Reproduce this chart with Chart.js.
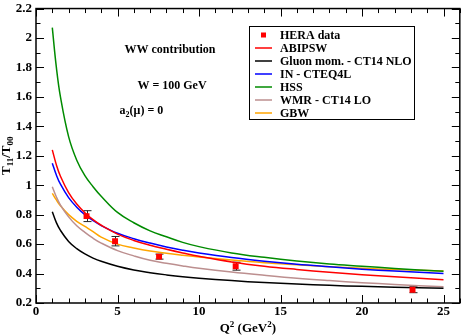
<!DOCTYPE html>
<html>
<head>
<meta charset="utf-8">
<script src="https://cdn.jsdelivr.net/npm/chart.js@4/dist/chart.umd.min.js"></script>
<style>
  html, body { margin: 0; padding: 0; background: #fff; }
  canvas { display: block; }
</style>
</head>
<body>
<canvas id="c" width="464" height="336"></canvas>
<script>
const FONT = "'Liberation Serif', 'Times New Roman', serif";

// Q^2 grid of the model curves (GeV^2)
const q2 = [1, 1.25, 1.5, 2, 2.5, 3, 3.5, 4, 5, 6, 7, 8, 9, 10, 12, 14, 16, 18, 20, 22, 25];
const abipsw = [1.24, 1.138, 1.061, 0.95, 0.872, 0.813, 0.766, 0.728, 0.668, 0.625, 0.592, 0.565, 0.54, 0.517, 0.479, 0.45, 0.428, 0.409, 0.392, 0.378, 0.358];
const gluonCT14 = [0.82, 0.746, 0.693, 0.618, 0.569, 0.533, 0.505, 0.483, 0.449, 0.424, 0.406, 0.391, 0.378, 0.368, 0.352, 0.339, 0.329, 0.32, 0.313, 0.307, 0.3];
const inCteq = [1.15, 1.069, 1.007, 0.916, 0.851, 0.8, 0.76, 0.726, 0.674, 0.637, 0.607, 0.581, 0.559, 0.54, 0.509, 0.484, 0.463, 0.446, 0.43, 0.417, 0.4];
const hss = [2.07, 1.8, 1.6, 1.33, 1.17, 1.065, 0.99, 0.925, 0.815, 0.745, 0.69, 0.65, 0.612, 0.583, 0.54, 0.51, 0.485, 0.465, 0.45, 0.435, 0.415];
const wmrCT14 = [0.99, 0.92, 0.865, 0.785, 0.725, 0.68, 0.64, 0.607, 0.556, 0.52, 0.49, 0.47, 0.452, 0.436, 0.41, 0.388, 0.368, 0.352, 0.338, 0.326, 0.31];
const gbw = [0.945, 0.9, 0.86, 0.8, 0.755, 0.72, 0.685, 0.648, 0.6, 0.574, 0.553, 0.538, 0.525, 0.513, 0.492, 0.474, 0.46, 0.447, 0.436, 0.427, 0.417];

// HERA measurements
const heraQ2 = [3.1, 4.85, 7.55, 12.25, 23.1];
const heraRatio = [0.79, 0.62, 0.515, 0.45, 0.29];
const heraErr = [0.037, 0.032, 0.017, 0.027, 0.02];

const xTicks = [0, 5, 10, 15, 20, 25];
const yTicks = [0.2, 0.4, 0.6, 0.8, 1, 1.2, 1.4, 1.6, 1.8, 2, 2.2];

const pts = (xs, ys) => xs.map((x, i) => ({ x, y: ys[i] }));
const curve = (label, ys, color) => ({
  label, data: pts(q2, ys), borderColor: color, backgroundColor: color,
  showLine: true, borderWidth: 1.5, pointRadius: 0, tension: 0.4,
});

// rich text helper: parts = [[text, 'n'|'sub'|'sup'], ...]
function richWidth(ctx, parts, size) {
  let w = 0;
  for (const [t, k] of parts) {
    ctx.font = `bold ${k === 'n' ? size : Math.round(size * 0.7)}px ${FONT}`;
    w += ctx.measureText(t).width;
  }
  return w;
}
function richText(ctx, parts, x, y, size) {
  ctx.textBaseline = 'alphabetic'; ctx.textAlign = 'left';
  for (const [t, k] of parts) {
    const s = k === 'n' ? size : Math.round(size * 0.7);
    ctx.font = `bold ${s}px ${FONT}`;
    const dy = k === 'sub' ? size * 0.25 : k === 'sup' ? -size * 0.4 : 0;
    ctx.fillText(t, x, y + dy);
    x += ctx.measureText(t).width;
  }
}

const decor = {
  id: 'decor',
  beforeDatasetsDraw(chart) {
    const { ctx, scales: { x, y } } = chart;
    ctx.save();
    ctx.strokeStyle = '#222'; ctx.lineWidth = 1;
    heraQ2.forEach((q, i) => {
      const px = Math.round(x.getPixelForValue(q)) + 0.5;
      const y0 = y.getPixelForValue(heraRatio[i] - heraErr[i]);
      const y1 = y.getPixelForValue(heraRatio[i] + heraErr[i]);
      ctx.beginPath();
      ctx.moveTo(px, y0); ctx.lineTo(px, y1);
      ctx.moveTo(px - 4, y0); ctx.lineTo(px + 4, y0);
      ctx.moveTo(px - 4, y1); ctx.lineTo(px + 4, y1);
      ctx.stroke();
    });
    ctx.restore();
  },
  afterDraw(chart) {
    const { ctx, chartArea: a, scales: { x, y } } = chart;
    ctx.save();
    // frame
    ctx.strokeStyle = '#000'; ctx.lineWidth = 1.5;
    ctx.strokeRect(a.left, a.top, a.right - a.left, a.bottom - a.top);
    // inward ticks on all four sides
    ctx.lineWidth = 1;
    ctx.beginPath();
    for (let v = 0; v <= 26; v++) {
      const px = Math.round(x.getPixelForValue(v)) + 0.5;
      const len = v % 5 === 0 ? 8 : 4.5;
      ctx.moveTo(px, a.bottom); ctx.lineTo(px, a.bottom - len);
      ctx.moveTo(px, a.top); ctx.lineTo(px, a.top + len);
    }
    for (let k = 2; k <= 22; k++) {
      const py = Math.round(y.getPixelForValue(k / 10)) + 0.5;
      const len = k % 2 === 0 ? 8 : 4.5;
      ctx.moveTo(a.left, py); ctx.lineTo(a.left + len, py);
      ctx.moveTo(a.right, py); ctx.lineTo(a.right - len, py);
    }
    ctx.stroke();

    // annotations
    ctx.fillStyle = '#000';
    richText(ctx, [['WW contribution', 'n']], x.getPixelForValue(5.43), y.getPixelForValue(1.925) + 4, 12);
    richText(ctx, [['W = 100 GeV', 'n']], x.getPixelForValue(6.22), y.getPixelForValue(1.683) + 4, 12);
    richText(ctx, [['a', 'n'], ['2', 'sub'], ['(\u03bc) = 0', 'n']], x.getPixelForValue(5.13), y.getPixelForValue(1.509) + 4, 12);

    // legend
    const lx = 249.5, ly = 26.5, lw = 165, lh = 93;
    ctx.fillStyle = '#fff';
    ctx.fillRect(lx, ly, lw, lh);
    ctx.strokeStyle = '#000'; ctx.lineWidth = 1;
    ctx.strokeRect(lx, ly, lw, lh);
    chart.data.datasets.forEach((ds, i) => {
      const ry = 35 + i * 13;
      if (ds.showLine) {
        ctx.strokeStyle = ds.borderColor; ctx.lineWidth = 1.5;
        ctx.beginPath(); ctx.moveTo(255, ry); ctx.lineTo(272, ry); ctx.stroke();
      } else {
        ctx.fillStyle = ds.backgroundColor;
        ctx.fillRect(261, ry - 2.5, 5, 5);
      }
      ctx.fillStyle = '#000';
      ctx.font = `bold 12px ${FONT}`;
      ctx.textBaseline = 'middle'; ctx.textAlign = 'left';
      ctx.fillText(ds.label, 280, ry + 0.5);
    });

    // axis titles
    const xt = [['Q', 'n'], ['2', 'sup'], [' (GeV', 'n'], ['2', 'sup'], [')', 'n']];
    const xw = richWidth(ctx, xt, 13);
    richText(ctx, xt, (a.left + a.right) / 2 - xw / 2, 332, 13);
    const yt = [['T', 'n'], ['11', 'sub'], ['/T', 'n'], ['00', 'sub']];
    const yw = richWidth(ctx, yt, 13);
    ctx.translate(10, (a.top + a.bottom) / 2);
    ctx.rotate(-Math.PI / 2);
    richText(ctx, yt, -yw / 2, 0, 13);
    ctx.restore();
  },
};

new Chart(document.getElementById('c'), {
  type: 'scatter',
  data: {
    datasets: [
      { label: 'HERA data', data: pts(heraQ2, heraRatio), backgroundColor: '#ff0000', borderColor: '#ff0000',
        pointStyle: 'rect', pointRadius: 4.2, borderWidth: 0, showLine: false },
      curve('ABIPSW', abipsw, '#ff0000'),
      curve('Gluon mom. - CT14 NLO', gluonCT14, '#000000'),
      curve('IN - CTEQ4L', inCteq, '#0000ff'),
      curve('HSS', hss, '#008b00'),
      curve('WMR - CT14 LO', wmrCT14, '#bc8f8f'),
      curve('GBW', gbw, '#ffa500'),
    ],
  },
  options: {
    responsive: false, animation: false,
    layout: { padding: { top: 5, right: 3, left: 0, bottom: 0 } },
    plugins: { legend: { display: false }, tooltip: { enabled: false } },
    scales: {
      x: {
        type: 'linear', min: 0, max: 26,
        afterBuildTicks: (s) => { s.ticks = xTicks.map((v) => ({ value: v })); },
        afterFit: (s) => { s.height = 33; },
        grid: { display: false, drawTicks: false }, border: { display: false },
        ticks: { autoSkip: false, maxRotation: 0, padding: 1, color: '#000',
          font: { family: FONT, size: 13, weight: 'bold', lineHeight: 1.2 },
          callback: (v) => String(v) },
      },
      y: {
        type: 'linear', min: 0.2, max: 2.2,
        afterBuildTicks: (s) => { s.ticks = yTicks.map((v) => ({ value: v })); },
        afterFit: (s) => { s.width = 36; },
        grid: { display: false, drawTicks: false }, border: { display: false },
        ticks: { autoSkip: false, padding: 4, color: '#000',
          font: { family: FONT, size: 13, weight: 'bold', lineHeight: 0.7 },
          callback: (v) => String(Math.round(v * 10) / 10) },
      },
    },
  },
  plugins: [decor],
});
</script>
</body>
</html>
